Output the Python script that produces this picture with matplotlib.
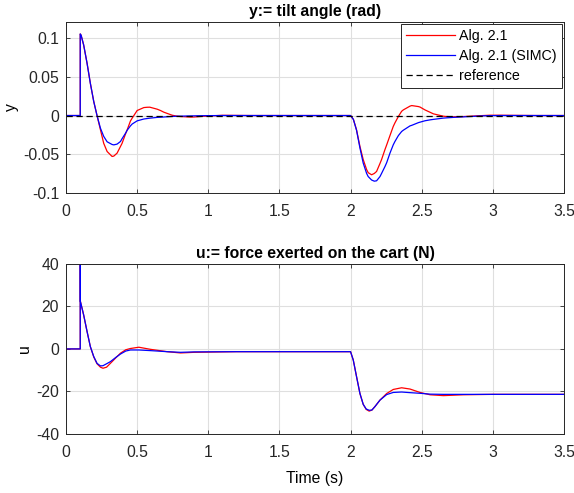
import matplotlib.pyplot as plt

plt.rcParams['font.family'] = ['Liberation Sans', 'DejaVu Sans']
plt.rcParams['font.size'] = 11.3
plt.rcParams['axes.unicode_minus'] = False

# tilt angle y (rad)
t_y = [0, 0.1, 0.1, 0.106, 0.124, 0.148, 0.171, 0.195, 0.218, 0.242, 0.265, 0.289,
       0.324, 0.336, 0.359, 0.383, 0.394, 0.418, 0.43, 0.453, 0.465, 0.5, 0.547,
       0.57, 0.589, 0.641, 0.664, 0.688, 0.746, 0.782, 0.805, 0.876, 0.9, 0.969,
       1.1, 1.3, 2.0, 2.02, 2.042, 2.066, 2.089, 2.113, 2.124, 2.148, 2.167, 2.183,
       2.207, 2.218, 2.242, 2.254, 2.277, 2.3, 2.312, 2.336, 2.359, 2.371, 2.418,
       2.43, 2.477, 2.488, 2.523, 2.559, 2.582, 2.653, 2.676, 2.723, 2.793, 2.84,
       2.934, 2.98, 3.05, 3.1, 3.3, 3.5]
y_alg = [0, 0, 0.1056, 0.104, 0.0914, 0.0677, 0.0418, 0.0181, 0.0, -0.0185, -0.036,
         -0.0466, -0.053, -0.0525, -0.0487, -0.040, -0.036, -0.024, -0.0185, -0.007,
         -0.0034, 0.0065, 0.0103, 0.0107, 0.0108, 0.0082, 0.0065, 0.0043, 0.0004,
         -0.0009, -0.0013, -0.002, -0.0019, -0.0009, 0.0003, 0.0, 0.0, -0.005,
         -0.0185, -0.040, -0.057, -0.070, -0.074, -0.0767, -0.075, -0.0724, -0.062,
         -0.057, -0.044, -0.038, -0.026, -0.0142, -0.0095, -0.0013, 0.0055, 0.0073,
         0.0122, 0.0129, 0.0116, 0.011, 0.0073, 0.0042, 0.0022, -0.0009, -0.0013,
         -0.0017, -0.0013, -0.0009, 0.0, 0.0004, 0.0004, 0.0003, 0.0, 0.0]
y_simc = [0, 0, 0.1056, 0.104, 0.0914, 0.0677, 0.0418, 0.0181, 0.0, -0.0164, -0.027,
          -0.034, -0.0375, -0.038, -0.037, -0.0336, -0.030, -0.023, -0.019, -0.0134,
          -0.011, -0.0069, -0.0045, -0.0039, -0.0034, -0.0024, -0.0022, -0.0019,
          -0.0012, -0.0009, -0.0008, -0.0005, -0.0004, -0.0002, 0.0, 0.0, 0.0,
          -0.005, -0.019, -0.042, -0.0616, -0.075, -0.079, -0.0835, -0.085, -0.0845,
          -0.079, -0.075, -0.066, -0.061, -0.0487, -0.038, -0.0336, -0.026, -0.0207,
          -0.019, -0.0134, -0.0127, -0.0092, -0.0086, -0.0068, -0.0056, -0.005,
          -0.0033, -0.003, -0.0024, -0.0017, -0.0013, -0.0004, -0.0002, 0.0, 0.0,
          0.0, 0.0]

# force on the cart u (N)
t_u = [0, 0.1, 0.1, 0.101, 0.124, 0.148, 0.171, 0.195, 0.218, 0.242, 0.26, 0.285,
       0.312, 0.35, 0.383, 0.42, 0.453, 0.512, 0.594, 0.711, 0.805, 0.9, 1.2, 2.0,
       2.019, 2.042, 2.066, 2.089, 2.11, 2.131, 2.15, 2.171, 2.207, 2.254, 2.3,
       2.359, 2.418, 2.488, 2.559, 2.653, 2.793, 3.0, 3.5]
u_alg = [0, 0, 100, 22.4, 16.0, 8.2, 1.1, -3.8, -7.0, -8.6, -9.1, -8.6, -6.8, -4.2,
         -2.0, -0.4, 0.2, 0.8, -0.2, -1.3, -1.9, -1.6, -1.3, -1.3, -5.2, -13.0,
         -21.0, -26.1, -28.5, -29.3, -28.8, -27.2, -24.1, -21.0, -19.1, -18.3,
         -18.9, -20.5, -21.6, -22.0, -21.6, -21.4, -21.4]
u_simc = [0, 0, 100, 22.4, 16.0, 8.2, 1.1, -3.6, -6.8, -8.0, -7.9, -7.0, -6.0, -4.0,
          -2.4, -1.0, -0.5, -0.5, -0.8, -1.3, -1.6, -1.4, -1.3, -1.3, -5.2, -13.0,
          -21.0, -26.1, -28.3, -28.9, -28.8, -27.2, -24.1, -21.5, -20.5, -20.3,
          -20.6, -20.9, -21.3, -21.4, -21.4, -21.4, -21.4]

t_ref = [0, 3.5]
y_ref = [0, 0]

fig = plt.figure(figsize=(5.74, 4.93), dpi=100)
ax1 = fig.add_axes([0.115, 0.609, 0.8675, 0.347])
ax2 = fig.add_axes([0.115, 0.12, 0.8675, 0.3445])

for ax in (ax1, ax2):
    ax.grid(True, color='#dfdfdf', linewidth=0.8)
    ax.set_axisbelow(True)
    ax.tick_params(direction='in', top=True, right=True, length=3, width=0.6,
                   colors='#262626', labelcolor='#262626')
    ax.tick_params(axis='x', pad=8)
    ax.tick_params(axis='y', pad=5)
    for s in ax.spines.values():
        s.set_color('#262626')
        s.set_linewidth(0.7)
    ax.set_xlim(0, 3.5)
    ax.set_xticks([0, 0.5, 1, 1.5, 2, 2.5, 3, 3.5])
    ax.set_xticklabels(['0', '0.5', '1', '1.5', '2', '2.5', '3', '3.5'])

ax1.plot(t_y, y_alg, color='red', linewidth=0.9, label='Alg. 2.1')
ax1.plot(t_y, y_simc, color='blue', linewidth=0.9, label='Alg. 2.1 (SIMC)')
ax1.plot(t_ref, y_ref, color='black', linestyle='--', linewidth=0.9,
         dashes=(5, 3), label='reference')
ax1.set_ylim(-0.1, 0.1215)
ax1.set_yticks([-0.1, -0.05, 0, 0.05, 0.1])
ax1.set_yticklabels(['-0.1', '-0.05', '0', '0.05', '0.1'])
ax1.set_ylabel('y', labelpad=3)
ax1.set_title('y:= tilt angle (rad)', fontweight='bold', fontsize=11.3, pad=4)
leg = ax1.legend(loc='upper right', fancybox=False, framealpha=1, fontsize=10.3,
                 edgecolor='#262626', borderaxespad=0.15, handlelength=3.4,
                 handletextpad=0.3, labelspacing=0.42, borderpad=0.35)
leg.get_frame().set_linewidth(0.7)

ax2.plot(t_u, u_alg, color='red', linewidth=0.9)
ax2.plot(t_u, u_simc, color='blue', linewidth=0.9)
ax2.set_ylim(-40, 40)
ax2.set_yticks([-40, -20, 0, 20, 40])
ax2.set_ylabel('u', labelpad=3)
ax2.set_xlabel('Time (s)', fontsize=11.3, labelpad=8)
ax2.set_title('u:= force exerted on the cart (N)', fontweight='bold', fontsize=11.3,
              pad=4)

fig.savefig('out.png', dpi=100)
